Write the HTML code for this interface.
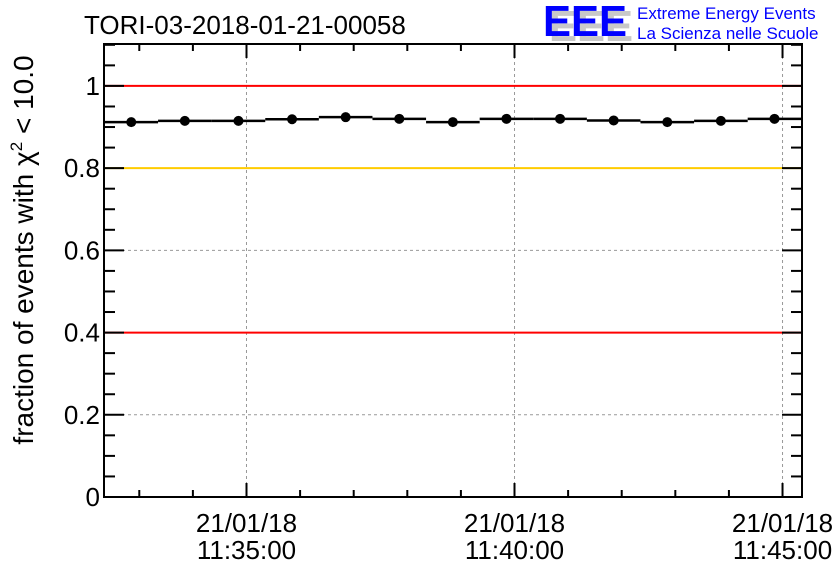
<!DOCTYPE html>
<html><head><meta charset="utf-8"><style>
body{margin:0;background:#fff;}
svg{font-family:"Liberation Sans",sans-serif;}
</style></head><body>
<svg width="836" height="572" viewBox="0 0 836 572">
<g id="grid"></g>
<g id="ref"></g>
<g id="series"></g>
<rect x="104" y="44" width="698" height="453" fill="none" stroke="#000" stroke-width="2"/>
<g id="axes"></g>
<text x="84" y="34" font-size="26">TORI-03-2018-01-21-00058</text>
<text transform="translate(33,250) rotate(-90)" text-anchor="middle" font-size="28">fraction of events with χ<tspan font-size="17" dy="-11">2</tspan><tspan dy="11"> &lt; 10.0</tspan></text>
<g>
<text x="549" y="41" font-size="44" font-weight="bold" fill="#c8c8c8" textLength="84" lengthAdjust="spacingAndGlyphs">EEE</text>
<text x="543" y="36" font-size="44" font-weight="bold" fill="#0000ff" textLength="84" lengthAdjust="spacingAndGlyphs">EEE</text>
<text x="637" y="19" font-size="17" fill="#0000ff">Extreme Energy Events</text>
<text x="637" y="39" font-size="17" fill="#0000ff">La Scienza nelle Scuole</text>
</g>
</svg>
<script>
const binCentersSec = [171,231,291,351,411,471,531,591,651,711,771,831,891];
const fractions = [0.912,0.915,0.915,0.919,0.924,0.920,0.912,0.920,0.920,0.916,0.912,0.915,0.920];
const yTicks = [0,0.2,0.4,0.6,0.8,1];
const yTickLabels = ["0","0.2","0.4","0.6","0.8","1"];
const xMajorSec = [300,600,900];
const xTickDates = ["21/01/18","21/01/18","21/01/18"];
const xTickTimes = ["11:35:00","11:40:00","11:45:00"];
const redLevels = [1,0.4];
const goldLevels = [0.8];
const binWidthSec = 60;

const NS="http://www.w3.org/2000/svg";
const L=104,R=802,T=44,B=497;
const xMin=140.5,xMax=921.8,yMin=0,yMax=1.102;
const sx=v=>L+(v-xMin)/(xMax-xMin)*(R-L);
const sy=v=>B-(v-yMin)/(yMax-yMin)*(B-T);
function mk(p,tag,at){const e=document.createElementNS(NS,tag);for(const k in at)e.setAttribute(k,at[k]);p.appendChild(e);return e;}
const grid=document.getElementById('grid'),ref=document.getElementById('ref'),ser=document.getElementById('series'),ax=document.getElementById('axes');
xMajorSec.forEach(s=>{const l=mk(grid,'line',{x1:sx(s),x2:sx(s),y1:T,y2:B,stroke:'#999','stroke-dasharray':'3,3','stroke-width':1});

});
yTicks.forEach(v=>{if(v<=0||v>=1)return;const l=mk(grid,'line',{x1:L,x2:R,y1:sy(v),y2:sy(v),stroke:'#999','stroke-dasharray':'3,3','stroke-width':1});

});
redLevels.forEach(v=>{const l=mk(ref,'line',{x1:L,x2:R,y1:sy(v),y2:sy(v),stroke:'#ff0000','stroke-width':2});

});
goldLevels.forEach(v=>{const l=mk(ref,'line',{x1:L,x2:R,y1:sy(v),y2:sy(v),stroke:'#ffcc00','stroke-width':2});

});
binCentersSec.forEach((s,i)=>{
const v=fractions[i];
const seg=mk(ser,'line',{x1:sx(s-binWidthSec/2),x2:sx(s+binWidthSec/2),y1:sy(v),y2:sy(v),stroke:'#000','stroke-width':2.5});


const c=mk(ser,'circle',{cx:sx(s),cy:sy(v),r:5,fill:'#000'});


});
for(let k=0;k<=22;k++){const v=k*0.05;const y=sy(v);if(y<T)break;const major=k%4===0;const len=major?20:11;
const a=mk(ax,'line',{x1:L,x2:L+len,y1:y,y2:y,stroke:'#000','stroke-width':2});


const b=mk(ax,'line',{x1:R,x2:R-len,y1:y,y2:y,stroke:'#000','stroke-width':2});

}
yTicks.forEach((v,i)=>{const t=mk(ax,'text',{x:L-4,y:sy(v)+9,'text-anchor':'end','font-size':26});t.textContent=yTickLabels[i];

});
for(let s=180;s<=xMax;s+=60){const major=s%300===0;const len=major?14:7;const x=sx(s);
const a=mk(ax,'line',{x1:x,x2:x,y1:B,y2:B-len,stroke:'#000','stroke-width':2});


const b=mk(ax,'line',{x1:x,x2:x,y1:T,y2:T+len,stroke:'#000','stroke-width':2});

}
xMajorSec.forEach((s,i)=>{const t1=mk(ax,'text',{x:sx(s),y:532,'text-anchor':'middle','font-size':26});t1.textContent=xTickDates[i];


const t2=mk(ax,'text',{x:sx(s),y:559,'text-anchor':'middle','font-size':26});t2.textContent=xTickTimes[i];

});
</script>
</body></html>
